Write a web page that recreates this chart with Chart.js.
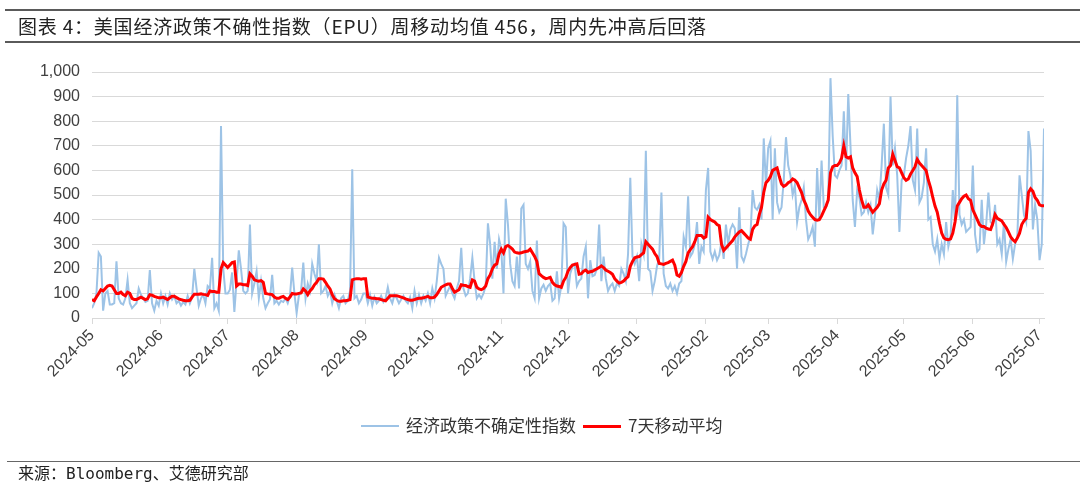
<!DOCTYPE html>
<html>
<head>
<meta charset="utf-8">
<script src="https://cdn.jsdelivr.net/npm/chart.js@4/dist/chart.umd.min.js"></script>
<style>
  html,body{margin:0;padding:0;background:#fff;}
  #wrap{position:relative;width:1080px;height:491px;overflow:hidden;background:#fff;}
  #c{position:absolute;left:0;top:0;}
  .title{position:absolute;left:5px;right:0;top:9px;height:30px;border-top:2px solid #5a5a5a;border-bottom:2px solid #5a5a5a;
    font-family:"Noto Sans CJK SC",sans-serif;font-size:19px;color:#222;line-height:30px;padding-left:13px;letter-spacing:0.8px;white-space:nowrap;}
  .footer{position:absolute;left:7px;right:0;top:461px;border-top:1.5px solid #666;
    font-family:"DejaVu Sans Mono","Noto Sans CJK SC",monospace;font-size:16px;color:#222;padding-left:11px;line-height:24px;}
  .legend{position:absolute;top:413px;left:0;width:1080px;height:24px;font-family:"Noto Sans CJK SC",sans-serif;font-size:17px;color:#333;}
  .legend .item{position:absolute;top:0;line-height:24px;white-space:nowrap;}
  .legend .sw{display:inline-block;width:38px;vertical-align:middle;margin-right:7px;position:relative;top:-1px;}
</style>
</head>
<body>
<div id="wrap">
  <canvas id="c" width="1080" height="491"></canvas>
  <div class="title">图表 4：美国经济政策不确性指数（EPU）周移动均值 456，周内先冲高后回落</div>
  <div class="legend">
    <div class="item" style="left:361px;"><span class="sw" style="border-top:2px solid #9dc3e6;"></span>经济政策不确定性指数</div>
    <div class="item" style="left:583px;"><span class="sw" style="border-top:3px solid #ff0000;"></span>7天移动平均</div>
  </div>
  <div class="footer">来源：Bloomberg、艾德研究部</div>
</div>
<script>
// Month tick labels and their day offsets from 2024-05-01
const monthLabels = ["2024-05","2024-06","2024-07","2024-08","2024-09","2024-10","2024-11","2024-12","2025-01","2025-02","2025-03","2025-04","2025-05","2025-06","2025-07"];
const monthStartDay = [0,31,61,92,123,153,184,214,245,276,304,335,365,396,426];

// Daily EPU index (blue), by month
const epuMay24 = [40,60,100,265,250,30,100,110,55,55,60,230,80,60,55,80,155,60,40,50,60,120,95,80,65,70,195,60,30,70,50];
const epuJun24 = [100,60,90,55,100,75,90,60,70,50,65,55,90,60,85,200,120,50,80,95,60,130,120,245,40,60,30,780,200,100];
const epuJul24 = [100,115,185,25,150,275,200,110,100,110,380,100,140,190,80,150,80,40,60,75,175,60,70,55,70,65,80,60,90,205,100];
const epuAug24 = [20,90,110,225,80,140,110,220,180,150,300,100,110,130,90,110,60,95,70,40,80,90,60,70,110,605,80,90,60,75,100];
const epuSep24 = [100,60,95,50,85,60,70,90,65,80,125,80,60,95,80,60,75,90,70,60,85,40,110,60,95,60,90,70,100,60];
const epuOct24 = [120,80,150,245,220,200,90,110,130,100,80,120,150,285,120,90,100,160,245,150,80,95,80,100,130,385,300,160,310,200,320];
const epuNov24 = [280,100,485,380,220,150,130,250,120,445,460,220,200,230,110,80,315,80,120,135,110,130,140,70,80,190,80,130,385,370];
const epuDec24 = [100,180,210,220,130,150,160,250,290,80,235,170,175,200,380,150,250,160,110,130,140,110,140,130,200,180,150,260,570,250,220];
const epuJan25 = [250,150,300,260,680,200,190,110,150,210,240,510,180,130,120,140,110,130,100,140,150,330,290,495,250,265,300,390,220,290,270];
const epuFeb25 = [520,610,270,240,270,235,255,310,240,380,300,360,380,365,200,450,250,230,260,300,330,520,450,440,460,400,730,540];
const epuMar25 = [690,720,400,690,470,430,450,560,735,620,580,500,540,390,450,480,530,400,320,340,370,290,610,400,640,450,450,480,975,740,580];
const epuApr25 = [570,600,620,840,600,910,700,480,370,520,490,420,430,470,430,460,340,420,520,480,620,790,530,500,900,620,690,580,350,560];
const epuMay25 = [580,650,700,780,560,520,770,470,490,550,690,400,410,300,270,320,240,300,260,390,290,330,520,390,905,420,380,400,350,360,370];
const epuJun25 = [620,340,270,280,480,300,380,510,390,380,460,300,320,260,390,230,280,320,240,300,330,580,500,420,390,760,680,360,460,400];
const epuJul25 = [235,300,770];

// 7-day moving average (red), by month
const maMay24 = [75,70,85,100,115,110,120,130,133,130,115,100,100,105,95,90,105,100,80,75,75,80,85,80,75,78,95,93,88,85,82];
const maJun24 = [82,85,80,75,82,88,88,83,78,75,72,70,70,72,85,97,97,97,98,96,95,92,110,108,108,105,105,200,225,215];
const maJul24 = [205,215,225,228,130,138,138,135,135,132,180,170,155,152,150,152,145,100,98,97,95,85,80,80,85,88,80,75,85,100,98];
const maAug24 = [98,100,102,118,110,95,110,120,135,145,160,160,158,145,130,118,95,78,72,68,68,70,70,72,75,155,158,160,160,158,160];
const maSep24 = [160,85,83,80,80,78,78,75,72,70,80,90,90,90,90,88,85,82,78,75,72,72,75,78,80,80,82,85,88,82];
const maOct24 = [82,85,95,110,125,130,135,138,138,120,105,110,115,135,133,132,128,125,155,150,125,118,115,120,130,160,175,200,215,220,260];
const maNov24 = [280,265,290,295,288,280,268,265,263,265,268,270,272,280,265,250,230,180,172,165,160,162,165,145,135,130,128,125,150,165];
const maDec24 = [190,205,215,218,220,178,180,190,195,185,188,190,195,200,205,212,205,195,190,185,178,160,150,142,145,150,160,168,210,230,245];
const maJan25 = [248,250,258,265,310,300,290,280,262,250,222,220,218,222,225,230,235,215,175,170,185,210,230,265,278,290,310,335,335,335,325];
const maFeb25 = [330,410,400,395,390,380,375,300,275,285,295,305,315,330,340,350,355,345,335,325,320,360,375,380,420,450,510,550];
const maMar25 = [560,575,600,605,610,575,545,535,540,550,555,565,560,550,530,510,480,460,435,420,410,400,398,400,415,435,455,480,590,615,620];
const maApr25 = [620,630,650,700,655,650,655,610,590,575,520,480,450,450,460,445,430,440,450,465,520,545,560,610,620,665,640,615,610,590];
const maMay25 = [570,560,565,585,600,615,645,630,620,610,600,560,530,490,455,430,385,345,325,320,318,322,345,390,455,470,485,495,500,485,478];
const maJun25 = [440,420,400,380,372,372,365,362,360,385,420,405,400,395,380,368,350,330,318,310,325,345,380,395,405,510,525,515,490,478];
const maJul25 = [460,456,456];

const yTicks = [0,100,200,300,400,500,600,700,800,900,1000];

const epu = [].concat(epuMay24,epuJun24,epuJul24,epuAug24,epuSep24,epuOct24,epuNov24,epuDec24,epuJan25,epuFeb25,epuMar25,epuApr25,epuMay25,epuJun25,epuJul25);
const ma7 = [].concat(maMay24,maJun24,maJul24,maAug24,maSep24,maOct24,maNov24,maDec24,maJan25,maFeb25,maMar25,maApr25,maMay25,maJun25,maJul25);

const epuPts = epu.map((v,i)=>({x:i,y:v}));
const maPts = ma7.map((v,i)=>({x:i,y:v}));

const tickFont = {family:"'Liberation Sans', Arial, sans-serif", size:16};

new Chart(document.getElementById('c'), {
  type:'line',
  data:{datasets:[
    {label:'7天移动平均', data:maPts, borderColor:'#ff0000', borderWidth:3, pointRadius:0, tension:0, order:0},
    {label:'经济政策不确定性指数', data:epuPts, borderColor:'#9dc3e6', borderWidth:2, pointRadius:0, tension:0, order:1}
  ]},
  options:{
    responsive:false, animation:false, events:[],
    layout:{padding:{left:0,right:36,top:72,bottom:93}},
    plugins:{legend:{display:false}, tooltip:{enabled:false}, title:{display:false}},
    scales:{
      x:{type:'linear', min:0, max:epu.length-1,
        afterBuildTicks:(s)=>{ s.ticks = monthStartDay.map(v=>({value:v})); },
        afterFit:(s)=>{ s.height = 80; },
        grid:{drawOnChartArea:false, drawTicks:true, tickLength:6, color:'#d9d9d9', lineWidth:1},
        border:{display:true, color:'#d9d9d9', width:1},
        ticks:{autoSkip:false, minRotation:45, maxRotation:45, padding:2, color:'#404040', font:tickFont,
          callback:(v)=>{ const k = monthStartDay.indexOf(v); return k>=0 ? monthLabels[k] : ''; }}
      },
      y:{min:0, max:1000,
        afterBuildTicks:(s)=>{ s.ticks = yTicks.map(v=>({value:v})); },
        afterFit:(s)=>{ s.width = 92; },
        grid:{color:'#d9d9d9', lineWidth:1, drawTicks:false},
        border:{display:false},
        ticks:{padding:12, color:'#404040', font:tickFont,
          callback:(v)=> v.toLocaleString('en-US')}
      }
    }
  }
});
</script>
</body>
</html>
